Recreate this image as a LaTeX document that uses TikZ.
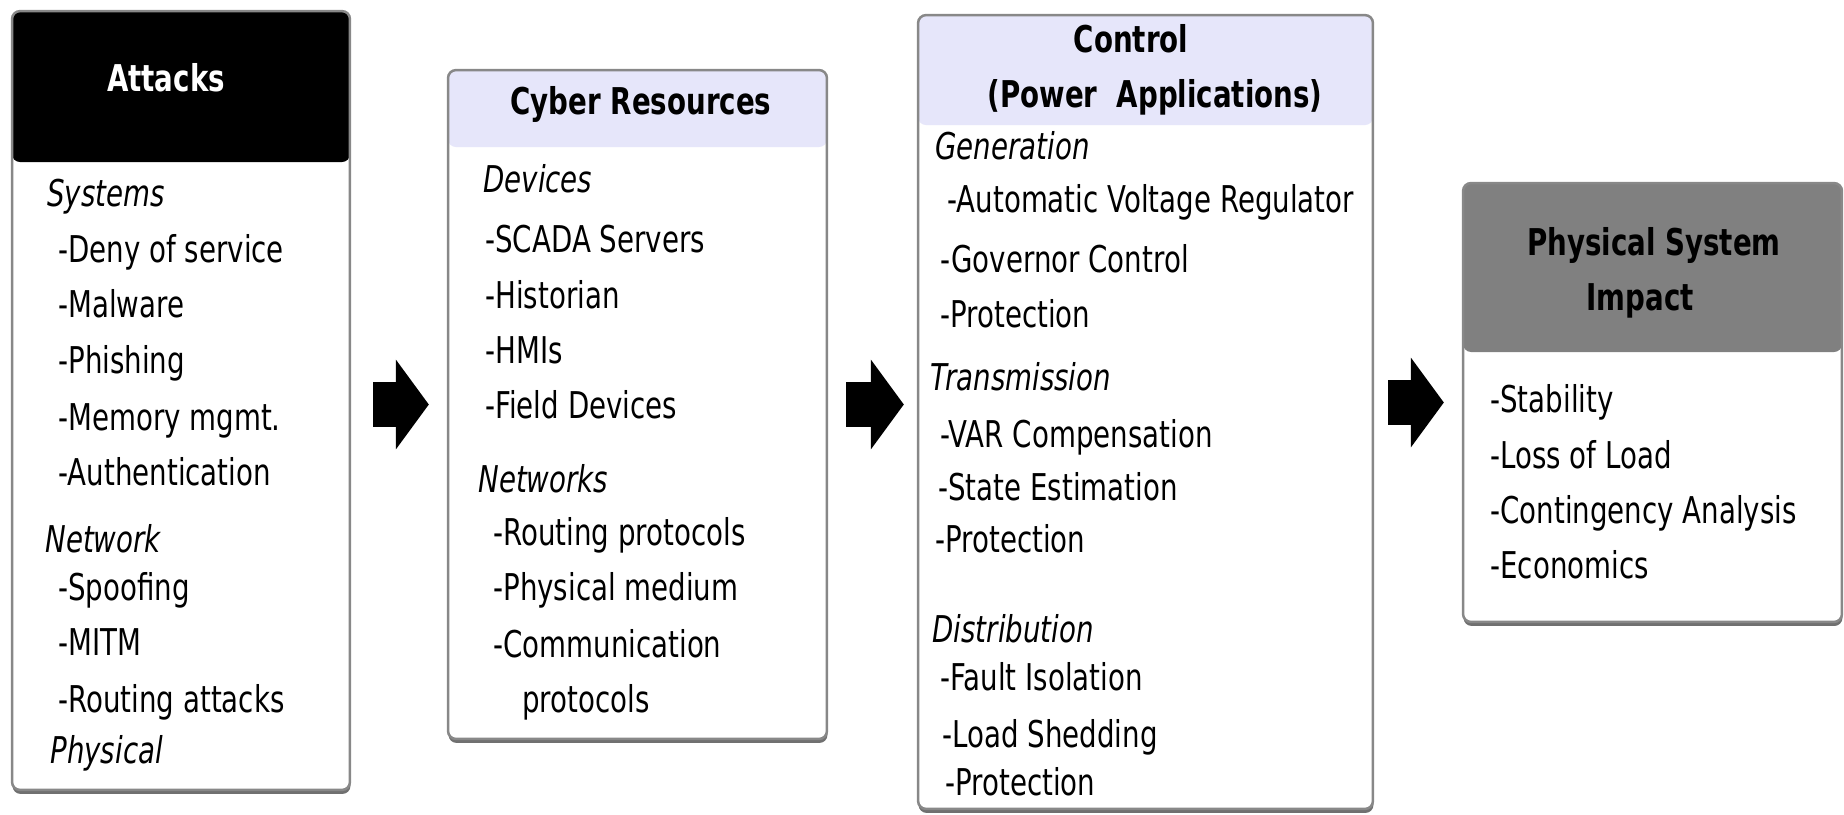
\documentclass[tikz,border=0pt]{standalone}
\usepackage{fontspec}
\setmainfont[FakeStretch=0.75]{DejaVu Sans}
\usepackage{xcolor}
\usepackage{tikz}
\usetikzlibrary{arrows.meta, shadows}
\definecolor{lavender}{RGB}{230,230,250}
\definecolor{frame}{RGB}{136,136,136}
\definecolor{shade}{RGB}{112,112,112}
\definecolor{impactgray}{RGB}{128,128,128}
\tikzset{
    panel/.style={rectangle, rounded corners=0.16cm, draw=frame, line width=0.05cm, fill=white,
        drop shadow={shadow xshift=0.01cm, shadow yshift=-0.08cm, fill=shade, opacity=1}},
    header/.style 2 args={path picture={\fill[#1] (path picture bounding box.north west) rectangle ([yshift=-#2]path picture bounding box.north east);}},
    item/.style={anchor=base west, inner sep=0pt},
    group/.style={anchor=base west, inner sep=0pt, font=\itshape},
    title/.style={anchor=base, inner sep=0pt, font=\bfseries},
    bigarrow/.style={line width=0.9cm, -{Triangle[length=0.66cm, width=1.8cm, line width=0pt]}}
}

\begin{document}
\begin{tikzpicture} [
    x=0.02cm, y=-0.02cm,
    every node/.style={font=\fontsize{21}{25}\selectfont},
    item/.append style={font=\fontsize{21}{25}\selectfont},
    group/.append style={font=\fontsize{21}{25}\selectfont\itshape},
    title/.append style={font=\fontsize{21}{25}\selectfont\bfseries}
]
    \useasboundingbox (0,0) rectangle (1844,814);

    % Panels
    \node[panel, header={black}{3.02cm}, minimum width=6.76cm, minimum height=15.58cm] (attacks) at (181,400.5) {};
    \node[panel, header={lavender}{1.54cm}, minimum width=7.58cm, minimum height=13.38cm] (cyber) at (637.5,404.5) {};
    \node[panel, header={lavender}{2.2cm}, minimum width=9.10cm, minimum height=15.88cm] (control) at (1145.5,412) {};
    \node[panel, header={impactgray}{3.38cm}, minimum width=7.58cm, minimum height=8.78cm] (impact) at (1652.5,402.5) {};

    % Attacks
    \node[title, text=white] (atktitle) at (166,92) {Attacks};
    \node[group] (systems) at (47,207) {Systems};
    \node[item] (dos) at (58,262) {-Deny of service};
    \node[item] (malware) at (58,317) {-Malware};
    \node[item] (phishing) at (58,373) {-Phishing};
    \node[item] (memory) at (58,430) {-Memory mgmt.};
    \node[item] (auth) at (58,485) {-Authentication};
    \node[group] (network) at (45,552) {Network};
    \node[item] (spoofing) at (58,600) {-Spoofing};
    \node[item] (mitm) at (58,655) {-MITM};
    \node[item] (routatk) at (58,712) {-Routing attacks};
    \node[group] (physical) at (50,763) {Physical};

    % Cyber resources
    \node[title] (cybtitle) at (641,115) {Cyber Resources};
    \node[group] (devices) at (483,193) {Devices};
    \node[item] (scada) at (485,252) {-SCADA Servers};
    \node[item] (historian) at (485,308) {-Historian};
    \node[item] (hmis) at (485,363) {-HMIs};
    \node[item] (field) at (485,418) {-Field Devices};
    \node[group] (networks) at (478,492) {Networks};
    \node[item] (routprot) at (493,545) {-Routing protocols};
    \node[item] (medium) at (493,600) {-Physical medium};
    \node[item] (comm) at (493,657) {-Communication};
    \node[item] (commprot) at (522,712) {protocols};

    % Control (power applications)
    \node[title] (ctltitle) at (1131,53) {Control};
    \node[title] (ctlsub) at (1155,108) {(Power\ \ Applications)};
    \node[group] (generation) at (935,160) {Generation};
    \node[item] (avr) at (947,213) {-Automatic Voltage Regulator};
    \node[item] (governor) at (940,272) {-Governor Control};
    \node[item] (genprot) at (940,327) {-Protection};
    \node[group] (transmission) at (930,390) {Transmission};
    \node[item] (var) at (940,447) {-VAR Compensation};
    \node[item] (state) at (938,500) {-State Estimation};
    \node[item] (transprot) at (935,552) {-Protection};
    \node[group] (distribution) at (932,642) {Distribution};
    \node[item] (fault) at (940,690) {-Fault Isolation};
    \node[item] (shedding) at (942,747) {-Load Shedding};
    \node[item] (distprot) at (945,795) {-Protection};

    % Physical system impact
    \node[title] (imptitle) at (1654,255) {Physical System};
    \node[title] (impsub) at (1640,310) {Impact};
    \node[item] (stability) at (1490,412) {-Stability};
    \node[item] (loss) at (1490,468) {-Loss of Load};
    \node[item] (contingency) at (1490,523) {-Contingency Analysis};
    \node[item] (economics) at (1490,578) {-Economics};

    % Flow between panels
    \draw[bigarrow, shorten <=0.44cm, shorten >=0.36cm] (cyber.west -| attacks.east) -- (cyber.west);
    \draw[bigarrow, shorten <=0.36cm, shorten >=0.26cm] (cyber.east) -- (cyber.east -| control.west);
    \draw[bigarrow, shorten <=0.28cm, shorten >=0.36cm] (impact.west -| control.east) -- (impact.west);
\end{tikzpicture}
\end{document}
